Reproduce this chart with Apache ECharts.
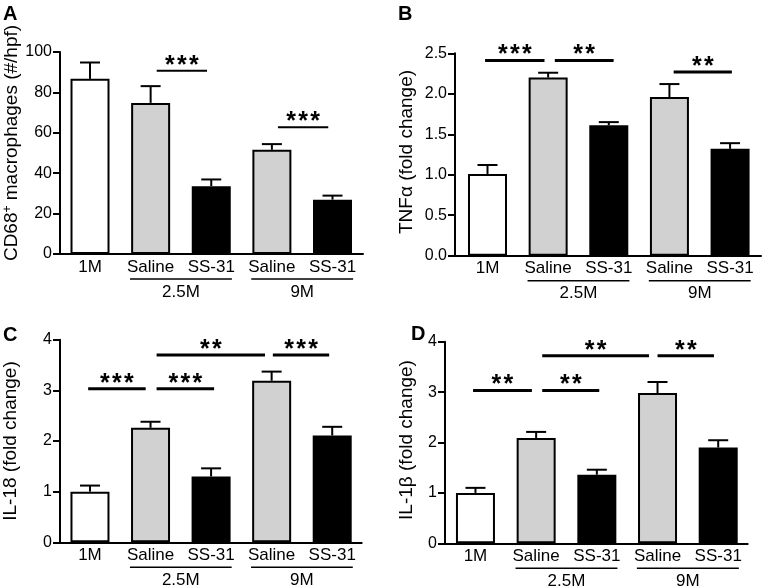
<!DOCTYPE html>
<html><head><meta charset="utf-8">
<script src="https://cdn.jsdelivr.net/npm/echarts@6/dist/echarts.min.js"></script>
<style>html,body{margin:0;padding:0;background:#fff}#c{width:762px;height:588px}</style>
</head><body><div id="c"></div>
<script>
// ---------- data ----------
const categories = ['1M', 'Saline', 'SS-31', 'Saline', 'SS-31'];
const groupNames = ['2.5M', '9M'];
const groupFrom = [1, 3];
const groupTo = [2, 4];

const aMean = [86.7, 74.8, 33.6, 51.6, 26.9];
const aErr = [8.1, 8.3, 3.3, 2.8, 2.0];
const aTicks = [0, 20, 40, 60, 80, 100];
const aSig = [[1.1, 1.93, 90.7, '***'], [3.1, 3.93, 62.7, '***']];

const bMean = [1.01, 2.2, 1.61, 1.96, 1.32];
const bErr = [0.11, 0.06, 0.04, 0.16, 0.07];
const bTicks = [0.0, 0.5, 1.0, 1.5, 2.0, 2.5];
const bSig = [[-0.04, 0.94, 2.41, '***'], [1.11, 2.08, 2.41, '**'], [3.07, 4.03, 2.27, '**']];

const cMean = [1.0, 2.26, 1.3, 3.19, 2.11];
const cErr = [0.12, 0.12, 0.16, 0.18, 0.17];
const cTicks = [0, 1, 2, 3, 4];
const cSig = [[-0.03, 0.92, 3.03, '***'], [1.1, 2.05, 3.03, '***'], [1.1, 2.89, 3.70, '**'], [3.02, 3.95, 3.70, '***']];

const dMean = [1.0, 2.09, 1.36, 2.98, 1.9];
const dErr = [0.1, 0.12, 0.1, 0.22, 0.145];
const dTicks = [0, 1, 2, 3, 4];
const dSig = [[-0.04, 0.93, 3.03, '**'], [1.1, 2.04, 3.03, '**'], [1.1, 2.86, 3.72, '**'], [3.0, 3.93, 3.72, '**']];

// ---------- style / layout ----------
const FONT = "'Liberation Sans', Arial, Helvetica, sans-serif";
const fills = ['#ffffff', '#d1d1d1', '#000000', '#d1d1d1', '#000000'];

const panels = [
  {mean: aMean, err: aErr, ticks: aTicks, sig: aSig, dec: 0,
   grid: {left: 60, top: 52, width: 303, height: 202}, xmin: -0.495, xmax: 4.503, sigW: 2},
  {mean: bMean, err: bErr, ticks: bTicks, sig: bSig, dec: 1,
   grid: {left: 455, top: 53.3, width: 306, height: 202.4}, xmin: -0.536, xmax: 4.51, sigW: 3},
  {mean: cMean, err: cErr, ticks: cTicks, sig: cSig, dec: 0,
   grid: {left: 60, top: 339.7, width: 301.7, height: 202.6}, xmin: -0.495, xmax: 4.487, sigW: 3},
  {mean: dMean, err: dErr, ticks: dTicks, sig: dSig, dec: 0,
   grid: {left: 445, top: 341.7, width: 302.7, height: 201.6}, xmin: -0.502, xmax: 4.486, sigW: 3}
];

const grids = [], xAxes = [], yAxes = [], series = [];

panels.forEach((p, k) => {
  grids.push(Object.assign({containLabel: false}, p.grid));
  xAxes.push({
    type: 'value', gridIndex: k, min: p.xmin, max: p.xmax,
    axisLine: {show: true, onZero: false, lineStyle: {color: '#000', width: 2}},
    axisTick: {show: false}, axisLabel: {show: false}, splitLine: {show: false}
  });
  const t = p.ticks;
  yAxes.push({
    type: 'value', gridIndex: k, min: t[0], max: t[t.length - 1], interval: t[1] - t[0],
    axisLine: {show: true, onZero: false, lineStyle: {color: '#000', width: 2}},
    axisTick: {show: true, inside: false, length: 7, lineStyle: {color: '#000', width: 2}},
    axisLabel: {color: '#000', fontSize: 16, fontFamily: FONT, margin: 8,
      formatter: v => v.toFixed(p.dec)},
    splitLine: {show: false}
  });
  // bars
  series.push({
    type: 'bar', xAxisIndex: k, yAxisIndex: k, barWidth: 39, z: 2,
    itemStyle: {borderColor: '#000', borderWidth: 2},
    data: p.mean.map((m, i) => ({value: [i, m], itemStyle: {color: fills[i]}})),
    animation: false
  });
  // error bars
  series.push({
    type: 'custom', xAxisIndex: k, yAxisIndex: k, z: 3, animation: false,
    encode: {x: 0, y: 1},
    data: p.mean.map((m, i) => [i, m, p.err[i]]),
    renderItem: (params, api) => {
      const x = api.value(0), m = api.value(1), e = api.value(2);
      const p0 = api.coord([x, m]), p1 = api.coord([x, m + e]);
      const hw = 10;
      return {type: 'group', children: [
        {type: 'line', shape: {x1: p0[0], y1: p0[1], x2: p1[0], y2: p1[1]}, style: {stroke: '#000', lineWidth: 2}},
        {type: 'line', shape: {x1: p1[0] - hw, y1: p1[1], x2: p1[0] + hw, y2: p1[1]}, style: {stroke: '#000', lineWidth: 2}}
      ]};
    }
  });
  // significance brackets
  series.push({
    type: 'custom', xAxisIndex: k, yAxisIndex: k, z: 4, animation: false,
    encode: {x: [0, 1], y: 2},
    data: p.sig.map(s => [s[0], s[1], s[2]]),
    renderItem: (params, api) => {
      const a = api.coord([api.value(0), api.value(2)]);
      const b = api.coord([api.value(1), api.value(2)]);
      const label = p.sig[params.dataIndex][3];
      const cx = (a[0] + b[0]) / 2;
      const n = label.length, sp = 12;
      const children = [{type: 'line', shape: {x1: a[0], y1: a[1], x2: b[0], y2: b[1]},
        style: {stroke: '#000', lineWidth: p.sigW}}];
      for (let j = 0; j < n; j++) {
        children.push({type: 'text', x: cx + (j - (n - 1) / 2) * sp, y: a[1] - 5,
          style: {text: label[j], font: 'bold 25px ' + FONT, fill: '#000', align: 'center', verticalAlign: 'middle'}});
      }
      return {type: 'group', children};
    }
  });
  // category labels
  series.push({
    type: 'custom', xAxisIndex: k, yAxisIndex: k, z: 4, animation: false,
    encode: {x: 0, y: 1},
    data: categories.map((c, i) => [i, 0]),
    renderItem: (params, api) => {
      const pt = api.coord([api.value(0), 0]);
      return {type: 'text', x: pt[0], y: pt[1] + 13,
        style: {text: categories[params.dataIndex], font: '17px ' + FONT, fill: '#000', align: 'center', verticalAlign: 'middle'}};
    }
  });
  // group labels
  series.push({
    type: 'custom', xAxisIndex: k, yAxisIndex: k, z: 4, animation: false,
    encode: {x: [0, 1], y: 2},
    data: groupFrom.map((f, g) => [f, groupTo[g], 0]),
    renderItem: (params, api) => {
      const a = api.coord([api.value(0) - 0.34, 0]);
      const b = api.coord([api.value(1) + 0.34, 0]);
      return {type: 'group', children: [
        {type: 'line', shape: {x1: a[0], y1: a[1] + 25, x2: b[0], y2: b[1] + 25}, style: {stroke: '#000', lineWidth: 1.5}},
        {type: 'text', x: (a[0] + b[0]) / 2, y: a[1] + 38,
          style: {text: groupNames[params.dataIndex], font: '17px ' + FONT, fill: '#000', align: 'center', verticalAlign: 'middle'}}
      ]};
    }
  });
});

const titleStyle = (text, rich) => ({text, rich, font: '19px ' + FONT, fill: '#000', align: 'center', verticalAlign: 'middle'});
const graphic = [
  {type: 'text', left: 3, top: 4, style: {text: 'A', font: 'bold 20px ' + FONT, fill: '#000'}},
  {type: 'text', left: 398, top: 4, style: {text: 'B', font: 'bold 20px ' + FONT, fill: '#000'}},
  {type: 'text', left: 3, top: 325, style: {text: 'C', font: 'bold 20px ' + FONT, fill: '#000'}},
  {type: 'text', left: 411, top: 324, style: {text: 'D', font: 'bold 20px ' + FONT, fill: '#000'}},
  {type: 'text', x: 12, y: 143, rotation: Math.PI / 2,
    style: titleStyle('{a|CD68}{s|+}{a| macrophages (#/hpf)}', {
      a: {fontSize: 19, fontFamily: FONT, lineHeight: 20},
      s: {fontSize: 12, fontFamily: FONT, verticalAlign: 'top', lineHeight: 12}})},
  {type: 'text', x: 407, y: 152, rotation: Math.PI / 2, style: titleStyle('TNFα (fold change)')},
  {type: 'text', x: 11, y: 441, rotation: Math.PI / 2, style: titleStyle('IL-18 (fold change)')},
  {type: 'text', x: 407, y: 440, rotation: Math.PI / 2, style: titleStyle('IL-1β (fold change)')}
];

const chart = echarts.init(document.getElementById('c'), null, {renderer: 'canvas'});
chart.setOption({
  animation: false,
  backgroundColor: '#fff',
  grid: grids, xAxis: xAxes, yAxis: yAxes, series, graphic
});
</script></body></html>
